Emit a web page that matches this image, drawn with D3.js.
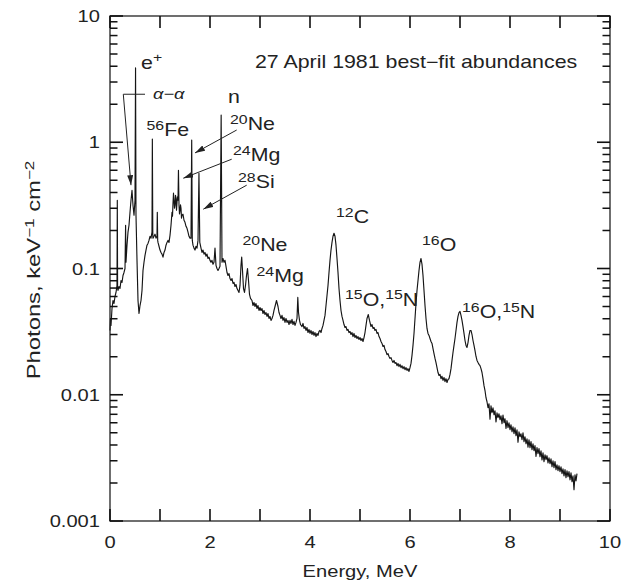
<!DOCTYPE html>
<html><head><meta charset="utf-8">
<script src="https://cdn.jsdelivr.net/npm/d3@7/dist/d3.min.js"></script>
<style>
html,body{margin:0;padding:0;background:#fff;}
svg text{font-family:"Liberation Sans",Arial,Helvetica,sans-serif;fill:#222;}
</style></head><body>
<svg id="chart" width="628" height="583"></svg>
<script>
// ---------- data ----------
const xTickValues=[0,1,2,3,4,5,6,7,8,9,10];
const xTickLabels=[0,2,4,6,8,10];
const yDecades=[0.001,0.01,0.1,1,10];
const yDecadeLabels=["0.001","0.01","0.1","1","10"];

// [energy MeV, photons keV^-1 cm^-2]
const spectrumLow=[[0.00,0.0323],[0.01,0.0402],[0.02,0.0354],[0.04,0.0482],[0.06,0.0558],[0.08,0.0528],[0.10,0.0600],[0.12,0.0646],[0.14,0.0734],[0.146,0.347],[0.152,0.0694],[0.16,0.0670],[0.18,0.0720],[0.20,0.0694],[0.22,0.0804],[0.24,0.0775],[0.26,0.0880],[0.28,0.0930],[0.30,0.100],[0.312,0.220],[0.32,0.112],[0.34,0.153],[0.36,0.194],[0.38,0.220],[0.40,0.279],[0.42,0.347],[0.44,0.417],[0.46,0.317],[0.48,0.264],[0.50,0.347],[0.511,3.88],[0.52,0.264],[0.54,0.116],[0.56,0.0558],[0.58,0.0440],[0.60,0.0509],[0.62,0.0558],[0.64,0.0670],[0.66,0.0964],[0.68,0.112],[0.70,0.127],[0.72,0.140],[0.74,0.153],[0.76,0.158],[0.78,0.167],[0.80,0.180],[0.82,0.174],[0.84,0.194],[0.847,1.06],[0.856,0.180],[0.86,0.174],[0.88,0.180],[0.90,0.187],[0.92,0.174],[0.94,0.180],[0.946,0.279],[0.954,0.167],[0.96,0.161],[0.98,0.150],[1.00,0.140],[1.02,0.134],[1.04,0.130],[1.06,0.123],[1.08,0.134],[1.10,0.140],[1.12,0.153],[1.14,0.161],[1.16,0.167],[1.18,0.161],[1.20,0.183],[1.22,0.220],[1.24,0.279],[1.25,0.260],[1.26,0.329],[1.27,0.395],[1.28,0.347],[1.29,0.300],[1.30,0.317],[1.31,0.380],[1.32,0.360],[1.33,0.290],[1.34,0.335],[1.35,0.370],[1.36,0.347],[1.369,0.600],[1.38,0.317],[1.39,0.270],[1.40,0.289],[1.41,0.320],[1.42,0.300],[1.43,0.250],[1.44,0.264],[1.46,0.269],[1.48,0.241],[1.50,0.232],[1.52,0.216],[1.54,0.208],[1.56,0.194],[1.58,0.180],[1.60,0.174],[1.62,0.174],[1.634,1.04],[1.646,0.167],[1.66,0.153],[1.68,0.145],[1.70,0.140],[1.72,0.150],[1.74,0.145],[1.76,0.167],[1.779,0.568],[1.796,0.161],[1.82,0.145],[1.84,0.134],[1.86,0.140],[1.88,0.130],[1.90,0.134],[1.92,0.125],[1.94,0.130],[1.96,0.120],[1.98,0.123],[2.00,0.116],[2.02,0.112],[2.04,0.116],[2.06,0.108],[2.08,0.112],[2.10,0.145],[2.12,0.106],[2.14,0.100],[2.16,0.0964],[2.18,0.100],[2.20,0.104],[2.223,1.64]];

const spectrumMid=[[2.24,0.112],[2.26,0.120],[2.28,0.112],[2.30,0.116],[2.32,0.104],[2.34,0.0930],[2.36,0.0880],[2.38,0.0913],[2.40,0.0833],[2.42,0.0804],[2.44,0.0833],[2.46,0.0761],[2.48,0.0775],[2.50,0.0720],[2.52,0.0747],[2.54,0.0694],[2.56,0.0670],[2.58,0.0646],[2.60,0.0734],[2.62,0.106],[2.634,0.123],[2.65,0.0964],[2.67,0.0694],[2.69,0.0646],[2.71,0.0734],[2.73,0.0880],[2.75,0.100],[2.77,0.0804],[2.79,0.0623],[2.81,0.0579],[2.84,0.0558],[2.86,0.0509],[2.88,0.0538],[2.90,0.0500],[2.92,0.0528],[2.94,0.0482],[2.96,0.0509],[2.98,0.0465],[3.00,0.0491],[3.02,0.0465],[3.04,0.0482],[3.06,0.0440],[3.08,0.0465],[3.10,0.0432],[3.12,0.0448],[3.14,0.0417],[3.16,0.0440],[3.18,0.0402],[3.20,0.0417],[3.22,0.0388],[3.24,0.0402],[3.26,0.0425],[3.28,0.0465],[3.30,0.0500],[3.33,0.0558],[3.36,0.0500],[3.38,0.0448],[3.40,0.0425],[3.42,0.0402],[3.44,0.0425],[3.46,0.0388],[3.48,0.0409],[3.50,0.0374],[3.52,0.0402],[3.54,0.0374],[3.56,0.0388],[3.58,0.0360],[3.60,0.0388],[3.62,0.0367],[3.64,0.0395],[3.66,0.0360],[3.68,0.0381],[3.70,0.0354],[3.72,0.0374],[3.74,0.0402],[3.756,0.0590],[3.77,0.0448],[3.79,0.0388],[3.81,0.0360],[3.84,0.0347],[3.86,0.0367],[3.88,0.0335],[3.90,0.0347],[3.92,0.0323],[3.94,0.0341],[3.96,0.0311],[3.98,0.0329],[4.00,0.0306],[4.02,0.0323],[4.04,0.0300],[4.06,0.0317],[4.08,0.0295],[4.10,0.0311],[4.12,0.0289],[4.14,0.0306],[4.16,0.0295],[4.18,0.0317],[4.20,0.0323],[4.22,0.0311],[4.24,0.0335],[4.26,0.0354],[4.28,0.0388],[4.30,0.0425],[4.32,0.0509],[4.34,0.0611],[4.36,0.0734],[4.38,0.0930],[4.40,0.116],[4.42,0.140],[4.44,0.161],[4.46,0.180],[4.48,0.190],[4.50,0.180],[4.52,0.153],[4.54,0.120],[4.56,0.0930],[4.58,0.0694],[4.60,0.0558],[4.62,0.0465],[4.64,0.0417],[4.66,0.0388],[4.68,0.0360],[4.70,0.0341],[4.72,0.0347],[4.74,0.0323],[4.76,0.0329],[4.78,0.0311],[4.80,0.0317],[4.82,0.0300],[4.84,0.0311],[4.86,0.0289],[4.88,0.0306],[4.90,0.0284],[4.92,0.0295],[4.94,0.0279],[4.96,0.0289],[4.98,0.0274]];

const spectrumHigh=[[5.00,0.0284],[5.02,0.0269],[5.04,0.0279],[5.06,0.0264],[5.08,0.0284],[5.10,0.0311],[5.12,0.0354],[5.14,0.0402],[5.166,0.0432],[5.19,0.0388],[5.22,0.0347],[5.24,0.0360],[5.26,0.0335],[5.28,0.0341],[5.30,0.0323],[5.32,0.0329],[5.34,0.0306],[5.36,0.0311],[5.38,0.0289],[5.40,0.0279],[5.42,0.0264],[5.44,0.0255],[5.46,0.0241],[5.48,0.0246],[5.50,0.0228],[5.52,0.0220],[5.54,0.0208],[5.56,0.0212],[5.58,0.0201],[5.60,0.0194],[5.62,0.0197],[5.64,0.0187],[5.66,0.0180],[5.68,0.0187],[5.70,0.0177],[5.72,0.0180],[5.74,0.0170],[5.76,0.0177],[5.78,0.0167],[5.80,0.0174],[5.82,0.0164],[5.84,0.0170],[5.86,0.0161],[5.88,0.0167],[5.90,0.0158],[5.92,0.0164],[5.94,0.0156],[5.96,0.0161],[5.98,0.0153],[6.00,0.0164],[6.02,0.0177],[6.04,0.0205],[6.06,0.0246],[6.08,0.0306],[6.10,0.0402],[6.12,0.0528],[6.14,0.0670],[6.16,0.0804],[6.18,0.0964],[6.20,0.112],[6.22,0.120],[6.24,0.108],[6.26,0.0880],[6.28,0.0670],[6.30,0.0509],[6.32,0.0402],[6.34,0.0335],[6.36,0.0306],[6.38,0.0295],[6.40,0.0279],[6.42,0.0264],[6.44,0.0255],[6.46,0.0232],[6.48,0.0212],[6.50,0.0194],[6.52,0.0180],[6.54,0.0164],[6.56,0.0150],[6.58,0.0142],[6.60,0.0145],[6.62,0.0134],[6.64,0.0140],[6.66,0.0130],[6.68,0.0137],[6.70,0.0127],[6.72,0.0134],[6.74,0.0125],[6.76,0.0132],[6.78,0.0134],[6.80,0.0145],[6.82,0.0161],[6.84,0.0187],[6.86,0.0216],[6.88,0.0246],[6.90,0.0279],[6.92,0.0323],[6.94,0.0374],[6.96,0.0417],[6.98,0.0448],[7.00,0.0457],[7.02,0.0425],[7.04,0.0388],[7.06,0.0347],[7.08,0.0306],[7.10,0.0269],[7.12,0.0246],[7.14,0.0237],[7.16,0.0259],[7.18,0.0295],[7.20,0.0323],[7.22,0.0323],[7.24,0.0300],[7.26,0.0269],[7.28,0.0246],[7.30,0.0224],[7.32,0.0201],[7.34,0.0187],[7.36,0.0180],[7.38,0.0174],[7.40,0.0170],[7.42,0.0161],[7.44,0.0150],[7.46,0.0134],[7.48,0.0118],[7.50,0.0108],[7.52,0.00947],[7.54,0.00880],[7.56,0.00789],[7.58,0.00849],[7.60,0.00640],[7.62,0.00818],[7.64,0.00720],[7.66,0.00789],[7.68,0.00694],[7.70,0.00747],[7.72,0.00610],[7.74,0.00720],[7.76,0.00658],[7.78,0.00707],[7.80,0.00634],[7.82,0.00682],[7.84,0.00590],[7.86,0.00690],[7.88,0.00600],[7.90,0.00646],[7.92,0.00540],[7.94,0.00623],[7.96,0.00548],[7.98,0.00600],[8.00,0.00528],[8.02,0.00579],[8.04,0.00509],[8.06,0.00558],[8.08,0.00491],[8.10,0.00548],[8.12,0.00474],[8.14,0.00528],[8.16,0.00420],[8.18,0.00509],[8.20,0.00465],[8.22,0.00491],[8.24,0.00440],[8.26,0.00500],[8.28,0.00425],[8.30,0.00465],[8.32,0.00409],[8.34,0.00448],[8.36,0.00385],[8.38,0.00440],[8.40,0.00381],[8.42,0.00425],[8.44,0.00367],[8.46,0.00409],[8.48,0.00360],[8.50,0.00395],[8.52,0.00325],[8.54,0.00381],[8.56,0.00341],[8.58,0.00374],[8.60,0.00323],[8.62,0.00360],[8.64,0.00305],[8.66,0.00347],[8.68,0.00295],[8.70,0.00335],[8.72,0.00306],[8.74,0.00329],[8.76,0.00289],[8.78,0.00317],[8.80,0.00284],[8.82,0.00311],[8.84,0.00269],[8.86,0.00300],[8.88,0.00264],[8.90,0.00295],[8.92,0.00255],[8.94,0.00279],[8.96,0.00250],[8.98,0.00274],[9.00,0.00246],[9.02,0.00269],[9.04,0.00237],[9.06,0.00259],[9.08,0.00228],[9.10,0.00255],[9.12,0.00220],[9.14,0.00250],[9.16,0.00224],[9.18,0.00246],[9.20,0.00212],[9.22,0.00241],[9.24,0.00205],[9.26,0.00228],[9.28,0.00177],[9.30,0.00232],[9.32,0.00208],[9.34,0.00237]];

const titleText="27 April 1981 best\u2212fit abundances";
const titleAt=[2.9,3.88];
// annotation labels: anchor [energy, flux] of text baseline-left, parts (sup = superscript)
const peakLabels=[
  {at:[0.62,3.81],parts:[["e"],["+","sup"]]},
  {at:[0.86,2.20],parts:[["\u03b1\u2212\u03b1","greek"]]},
  {at:[0.73,1.12],parts:[["56","sup"],["Fe"]]},
  {at:[2.36,2.05],parts:[["n"]]},
  {at:[2.40,1.25],parts:[["20","sup"],["Ne"]]},
  {at:[2.46,0.707],parts:[["24","sup"],["Mg"]]},
  {at:[2.56,0.432],parts:[["28","sup"],["Si"]]},
  {at:[2.65,0.137],parts:[["20","sup"],["Ne"]]},
  {at:[2.93,0.0775],parts:[["24","sup"],["Mg"]]},
  {at:[4.52,0.228],parts:[["12","sup"],["C"]]},
  {at:[4.70,0.0509],parts:[["15","sup"],["O,"],["15","sup"],["N"]]},
  {at:[6.24,0.137],parts:[["16","sup"],["O"]]},
  {at:[7.04,0.0402],parts:[["16","sup"],["O,"],["15","sup"],["N"]]}
];
// arrows: [fromE, fromFlux, toE, toFlux]
const arrows=[[2.534,1.25,1.70,0.823],[2.434,0.734,1.466,0.519],[2.734,0.457,1.866,0.295],[0.266,2.40,0.42,0.457]];
const bracket=[[0.266,2.40],[0.70,2.40]];

// ---------- drawing ----------
const W=628,H=583,M={left:110,right:18,top:16,bottom:62};
const x=d3.scaleLinear().domain([0,10]).range([M.left,W-M.right]);
const y=d3.scaleLog().domain([0.001,10]).range([H-M.bottom,M.top]);
const SX=1.22;
const svg=d3.select("#chart");
const ink="#222";
const x0=x(0),x1=x(10),yb=y(0.001),yt=y(10);

// tick labels
xTickLabels.forEach(v=>svg.append("text").attr("transform",`translate(${x(v)},${yb+27}) scale(${SX},1)`)
  .attr("text-anchor","middle").attr("font-size",16.5).text(v));
yDecades.forEach((v,i)=>svg.append("text").attr("transform",`translate(${x0-10},${y(v)+6}) scale(${SX},1)`)
  .attr("text-anchor","end").attr("font-size",16.5).text(yDecadeLabels[i]));

// axis titles
svg.append("text").attr("transform",`translate(${(x0+x1)/2},577) scale(${SX},1)`)
  .attr("text-anchor","middle").attr("font-size",16.5).text("Energy, MeV");
const yl=svg.append("text").attr("transform",`translate(40,270) rotate(-90) scale(1.36,1)`)
  .attr("text-anchor","middle").attr("font-size",17.5);
yl.append("tspan").text("Photons, keV");
yl.append("tspan").attr("font-size",12.5).attr("dy",-6.5).text("\u22121");
yl.append("tspan").attr("dy",6.5).text(" cm");
yl.append("tspan").attr("font-size",12.5).attr("dy",-6.5).text("\u22122");

// spectrum
const spectrum=spectrumLow.concat(spectrumMid,spectrumHigh);
const line=d3.line().x(d=>x(d[0])).y(d=>y(d[1]));
svg.append("path").datum(spectrum).attr("d",line).attr("fill","none")
  .attr("stroke","#151515").attr("stroke-width",1.15).attr("stroke-linejoin","round");

// arrows
svg.append("defs").append("marker").attr("id","ah").attr("markerUnits","userSpaceOnUse")
  .attr("markerWidth",10).attr("markerHeight",6).attr("refX",10).attr("refY",3).attr("orient","auto")
  .append("path").attr("d","M0,0L10,3L0,6Z").attr("fill",ink);
arrows.forEach(a=>svg.append("line").attr("x1",x(a[0])).attr("y1",y(a[1])).attr("x2",x(a[2])).attr("y2",y(a[3]))
  .attr("stroke",ink).attr("stroke-width",1).attr("marker-end","url(#ah)"));
svg.append("path").datum(bracket).attr("d",line).attr("stroke",ink).attr("stroke-width",1).attr("fill","none");

// labels
svg.append("text").attr("transform",`translate(${x(titleAt[0])},${y(titleAt[1])}) scale(${SX},1)`)
  .attr("font-size",17.5).text(titleText);
peakLabels.forEach(l=>{
  const t=svg.append("text").attr("transform",`translate(${x(l.at[0])},${y(l.at[1])}) scale(${SX},1)`).attr("font-size",17.5);
  let up=false;
  l.parts.forEach(([s,kind])=>{
    const ts=t.append("tspan").text(s);
    if(kind==="sup"){ts.attr("font-size",13).attr("dy",up?0:-6.5);up=true;}
    else{ if(kind==="greek")ts.attr("font-size",15).attr("font-style","italic"); ts.attr("dy",up?6.5:0);up=false;}
  });
});

// frame and inward ticks on all four sides, drawn last so nothing covers them
const minorY=[];
yDecades.slice(0,4).forEach(d=>{for(let k=2;k<10;k++)minorY.push(+(k*d).toPrecision(3));});
const tickRects=[];
xTickValues.forEach(d=>{tickRects.push([x(d)-0.8,yb-12,1.6,12]);tickRects.push([x(d)-0.8,yt,1.6,12]);});
yDecades.forEach(d=>{tickRects.push([x0,y(d)-0.8,13,1.6]);tickRects.push([x1-13,y(d)-0.8,13,1.6]);});
minorY.forEach(d=>{tickRects.push([x0,y(d)-0.75,7.5,1.5]);tickRects.push([x1-7.5,y(d)-0.75,7.5,1.5]);});
const axisLayer=svg.append("g").attr("class","frame");
axisLayer.append("rect").attr("x",x0).attr("y",yt).attr("width",x1-x0).attr("height",yb-yt)
  .attr("fill","none").attr("stroke",ink).attr("stroke-width",1.3);
axisLayer.selectAll("rect.tick").data(tickRects).join("rect").attr("class","tick")
  .attr("x",r=>r[0]).attr("y",r=>r[1]).attr("width",r=>r[2]).attr("height",r=>r[3]).attr("fill","#111");
</script>
</body></html>
